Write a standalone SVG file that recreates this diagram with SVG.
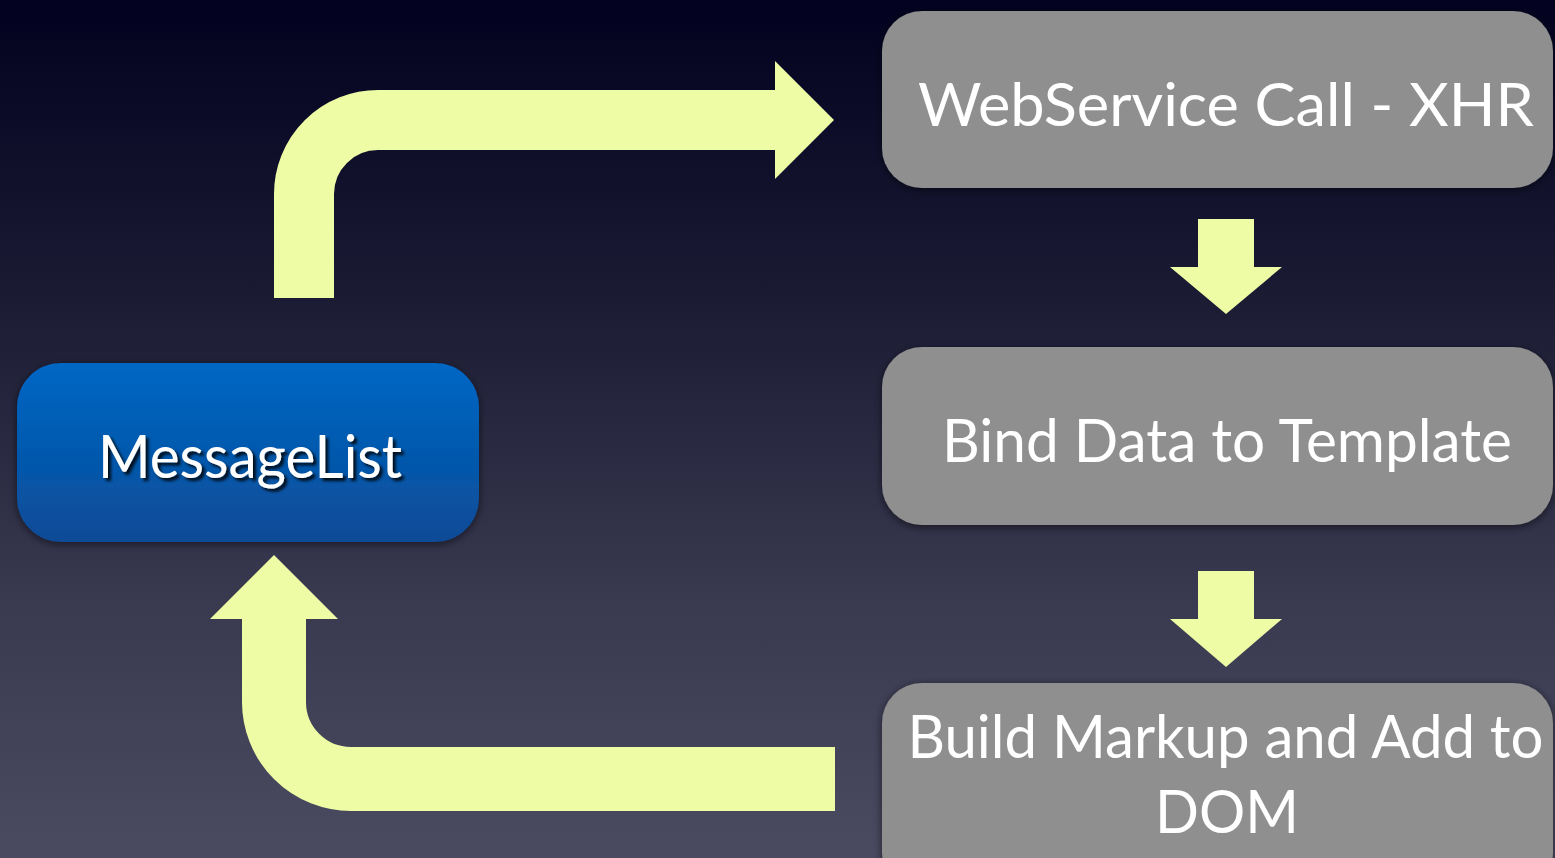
<svg xmlns="http://www.w3.org/2000/svg" width="1555" height="858" viewBox="0 0 1555 858">
  <defs>
    <linearGradient id="bg" x1="0" y1="0" x2="0" y2="1">
      <stop offset="0" stop-color="#020220"/>
      <stop offset="0.35" stop-color="#1b1b34"/>
      <stop offset="0.7" stop-color="#393950"/>
      <stop offset="1" stop-color="#4a4a60"/>
    </linearGradient>
    <linearGradient id="blue" x1="0" y1="0" x2="0" y2="1">
      <stop offset="0" stop-color="#0067c4"/>
      <stop offset="1" stop-color="#0a4b97"/>
    </linearGradient>
    <filter id="boxShadow" x="-10%" y="-20%" width="120%" height="140%">
      <feDropShadow dx="0" dy="2" stdDeviation="4" flood-color="#000000" flood-opacity="0.55"/>
    </filter>
    <filter id="textShadow" x="-10%" y="-30%" width="120%" height="160%">
      <feDropShadow dx="3" dy="3" stdDeviation="1.5" flood-color="#000000" flood-opacity="0.85"/>
    </filter>
    <style>
      .gray { fill: #8f8f8f; filter: url(#boxShadow); }
      .label { font-family: Lato, "Open Sans", "Liberation Sans", sans-serif; font-size: 60px; font-weight: 400; fill: #ffffff; text-anchor: middle; }
      .shaft { fill: none; stroke: #eefca6; stroke-linecap: butt; stroke-linejoin: round; }
      .head { fill: #eefca6; }
    </style>
  </defs>

  <rect x="0" y="0" width="1555" height="858" fill="url(#bg)"/>

  <g id="connectors">
    <g id="arrow-messagelist-to-webservice">
      <path class="shaft" stroke-width="60" d="M304,298 V194 A74,74 0 0 1 378,120 H776"/>
      <polygon class="head" points="775,61 834,120 775,179"/>
    </g>
    <g id="arrow-webservice-to-bind">
      <rect class="head" x="1198" y="219" width="56" height="49"/>
      <polygon class="head" points="1170,267 1282,267 1226,314"/>
    </g>
    <g id="arrow-bind-to-build">
      <rect class="head" x="1198" y="571" width="56" height="49"/>
      <polygon class="head" points="1170,619 1282,619 1226,667"/>
    </g>
    <g id="arrow-build-to-messagelist">
      <path class="shaft" stroke-width="64" d="M835,779 H351 A77,77 0 0 1 274,702 V618"/>
      <polygon class="head" points="210,619 274,555 338,619"/>
    </g>
  </g>

  <g id="node-messagelist">
    <rect x="17" y="363" width="462" height="179" rx="44" ry="44" fill="url(#blue)" filter="url(#boxShadow)"/>
    <text class="label" x="250" y="478" textLength="304" lengthAdjust="spacingAndGlyphs" filter="url(#textShadow)">MessageList</text>
  </g>

  <g id="node-webservice">
    <rect class="gray" x="882" y="11" width="671" height="177" rx="40" ry="40"/>
    <text class="label" x="1226" y="126" textLength="616" lengthAdjust="spacingAndGlyphs">WebService Call - XHR</text>
  </g>

  <g id="node-bind">
    <rect class="gray" x="882" y="347" width="671" height="178" rx="40" ry="40"/>
    <text class="label" x="1227" y="462" textLength="570" lengthAdjust="spacingAndGlyphs">Bind Data to Template</text>
  </g>

  <g id="node-build">
    <rect class="gray" x="882" y="683" width="671" height="210" rx="40" ry="40"/>
    <text class="label" x="1225.5" y="758" textLength="636" lengthAdjust="spacingAndGlyphs">Build Markup and Add to</text>
    <text class="label" x="1227" y="833" textLength="144" lengthAdjust="spacingAndGlyphs">DOM</text>
  </g>
</svg>
